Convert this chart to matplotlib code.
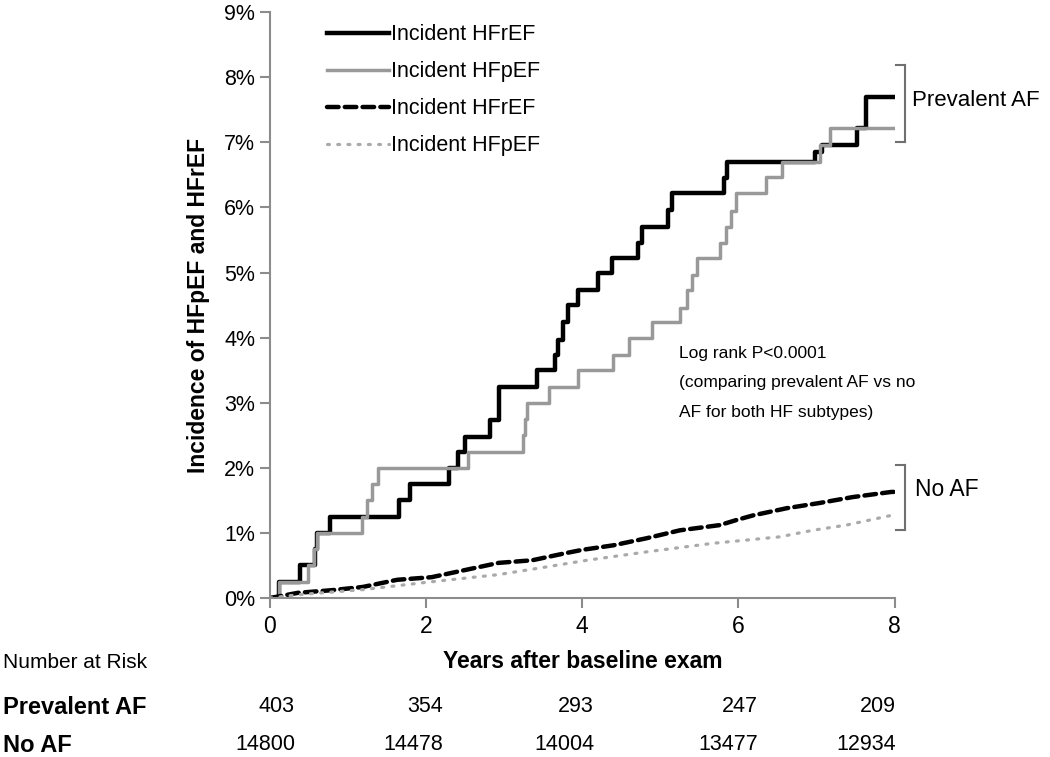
import matplotlib
matplotlib.use("Agg")
import matplotlib.pyplot as plt

plt.rcParams['font.family'] = ['Liberation Sans', 'DejaVu Sans']

# prevalent AF, incident HFrEF (step curve, years / percent)
hfref_af_t = [0, 0.115, 0.38, 0.58, 0.61, 0.77, 1.66, 1.79, 2.30, 2.41, 2.50, 2.82, 2.94,
              3.42, 3.65, 3.69, 3.75, 3.82, 3.94, 4.20, 4.38, 4.71, 4.76, 5.10, 5.15,
              5.81, 5.85, 6.98, 7.07, 7.52, 7.63, 8.0]
hfref_af_v = [0, 0.25, 0.5, 0.75, 1.0, 1.25, 1.5, 1.75, 2.0, 2.24, 2.47, 2.73, 3.24,
              3.5, 3.73, 3.96, 4.24, 4.5, 4.73, 5.0, 5.22, 5.45, 5.7, 5.96, 6.22,
              6.45, 6.7, 6.85, 6.96, 7.22, 7.7, 7.7]

# prevalent AF, incident HFpEF
hfpef_af_t = [0, 0.115, 0.49, 0.56, 0.61, 1.18, 1.25, 1.31, 1.38, 2.54, 3.24, 3.27, 3.29,
              3.57, 3.94, 4.40, 4.60, 4.89, 5.25, 5.34, 5.40, 5.47, 5.76, 5.84, 5.90,
              5.97, 6.35, 6.56, 7.04, 7.17, 8.0]
hfpef_af_v = [0, 0.25, 0.5, 0.75, 1.0, 1.25, 1.5, 1.75, 2.0, 2.24, 2.5, 2.75, 3.0,
              3.24, 3.5, 3.73, 4.0, 4.24, 4.45, 4.73, 4.96, 5.22, 5.45, 5.7, 5.95,
              6.22, 6.47, 6.7, 6.96, 7.22, 7.22]

# no AF curves
hfref_noaf_t = [0, 0.36, 0.79, 1.19, 1.63, 2.07, 2.5, 2.93, 3.36, 3.79, 4.0, 4.4, 4.83,
                5.25, 5.76, 5.98, 6.19, 6.62, 7.04, 7.46, 7.96, 8.0]
hfref_noaf_v = [0, 0.08, 0.12, 0.17, 0.28, 0.32, 0.43, 0.54, 0.58, 0.69, 0.74, 0.81, 0.92,
                1.04, 1.12, 1.2, 1.27, 1.38, 1.46, 1.55, 1.63, 1.63]
hfpef_noaf_t = [0, 0.36, 1.2, 2.07, 2.93, 3.5, 4.06, 4.83, 5.67, 6.53, 6.95, 7.38, 7.96, 8.0]
hfpef_noaf_v = [0, 0.05, 0.13, 0.25, 0.36, 0.47, 0.58, 0.71, 0.84, 0.94, 1.04, 1.12, 1.27, 1.28]

risk_years = [0, 2, 4, 6, 8]
risk_prev_af = [403, 354, 293, 247, 209]
risk_no_af = [14800, 14478, 14004, 13477, 12934]

fig = plt.figure(figsize=(10.5, 7.57), dpi=100)
ax = fig.add_axes([0.257, 0.21, 0.595, 0.774])

ax.step(hfref_af_t, hfref_af_v, where='post', color='black', lw=3.2,
        label='Incident HFrEF')
ax.step(hfpef_af_t, hfpef_af_v, where='post', color='#999999', lw=2.5,
        label='Incident HFpEF')
ax.plot(hfref_noaf_t, hfref_noaf_v, color='black', lw=3.2, dashes=(2.6, 1.4),
        dash_capstyle='round', label='Incident HFrEF')
ax.plot(hfpef_noaf_t, hfpef_noaf_v, color='#aaaaaa', lw=2.3, dashes=(0.6, 2.6),
        dash_capstyle='round', label='Incident HFpEF')

ax.set_xlim(0, 8)
ax.set_ylim(0, 9)
ax.set_xticks([0, 2, 4, 6, 8])
ax.set_yticks(range(10))
ax.set_yticklabels([f"{i}%" for i in range(10)])
for s in ['top', 'right']:
    ax.spines[s].set_visible(False)
for s in ['left', 'bottom']:
    ax.spines[s].set_color('#8c8c8c')
    ax.spines[s].set_linewidth(1.5)
ax.tick_params(axis='both', colors='#8c8c8c', width=1.5, length=7, labelcolor='black',
               labelsize=15.5)
ax.tick_params(axis='x', pad=5, labelsize=16.5)
ax.set_ylabel('Incidence of HFpEF and HFrEF', fontsize=16.5, fontweight='bold', labelpad=10)

leg = ax.legend(loc='upper left', bbox_to_anchor=(0.06, 1.012), frameon=False, fontsize=15.5,
                handlelength=2.9, handletextpad=0.1, labelspacing=0.74)

ax.text(0.655, 0.43, 'Log rank P<0.0001\n(comparing prevalent AF vs no\nAF for both HF subtypes)',
        transform=ax.transAxes, fontsize=12.5, va='top', ha='left', linespacing=2.2)

# brackets
def bracket(y0, y1):
    kw = dict(color='#707070', lw=1.5, transform=fig.transFigure, clip_on=False)
    x = 905 / 1050
    x0 = 896 / 1050
    fig.add_artist(plt.Line2D([x, x], [1 - y0 / 757, 1 - y1 / 757], **kw))
    fig.add_artist(plt.Line2D([x0, x], [1 - y0 / 757, 1 - y0 / 757], **kw))
    fig.add_artist(plt.Line2D([x0, x], [1 - y1 / 757, 1 - y1 / 757], **kw))

bracket(65, 142)
bracket(465, 530)
fig.text(912 / 1050, 1 - 100 / 757, 'Prevalent AF', fontsize=16, va='center', ha='left')
fig.text(915 / 1050, 1 - 490 / 757, 'No AF', fontsize=16.5, va='center', ha='left')

# x label and number at risk table
fig.text(583 / 1050, 1 - 662 / 757, 'Years after baseline exam', fontsize=16.5,
         fontweight='bold', ha='center', va='center')
fig.text(3 / 1050, 1 - 662 / 757, 'Number at Risk', fontsize=15, ha='left', va='center')
fig.text(3 / 1050, 1 - 707 / 757, 'Prevalent AF', fontsize=17, fontweight='bold',
         ha='left', va='center')
fig.text(3 / 1050, 1 - 745 / 757, 'No AF', fontsize=17, fontweight='bold',
         ha='left', va='center')

risk_anchor = [0.32, 2.22, 4.15, 6.25, 8.02]
for xa, a, b in zip(risk_anchor, risk_prev_af, risk_no_af):
    xf = (270 + xa * 78.1) / 1050
    fig.text(xf, 1 - 707 / 757, str(a), fontsize=15.5, ha='right', va='center')
    fig.text(xf, 1 - 745 / 757, str(b), fontsize=15.5, ha='right', va='center')

fig.savefig('out.png', dpi=100)
